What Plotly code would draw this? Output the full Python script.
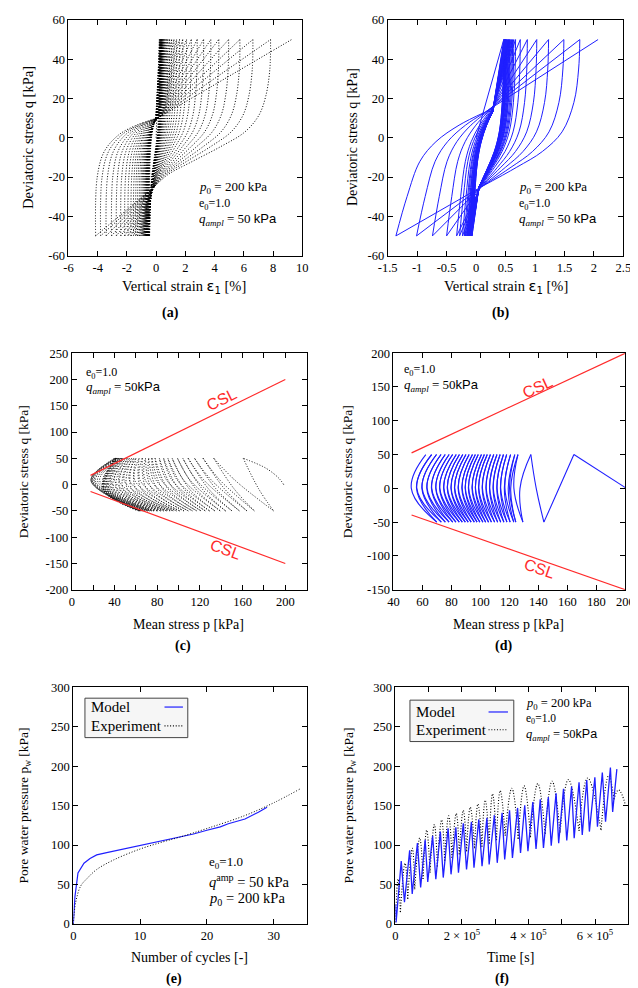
import plotly.graph_objects as go

W, H = 638, 988
SERIF = "Liberation Serif"
SANS = "Liberation Sans"
BLUE = "#1f1fff"
RED = "#ff2a2a"
DOT = "1px,1.8px"

# ---------------- (a) experiment: strain at q=+50 / q=-50 per cycle ----------------
a_eps_top = [0.22, 0.25, 0.27, 0.29, 0.31, 0.33, 0.35, 0.37, 0.39, 0.41, 0.44, 0.47, 0.51, 0.56,
             0.62, 0.70, 0.80, 0.92, 1.06, 1.22, 1.40, 1.60, 1.82, 2.08, 2.41, 2.81, 3.25, 3.74,
             4.29, 4.96, 5.73, 6.62, 7.83, 9.27]
a_eps_bot = [-0.45, -0.48, -0.50, -0.52, -0.54, -0.56, -0.58, -0.60, -0.62, -0.64, -0.66, -0.68,
             -0.70, -0.73, -0.76, -0.80, -0.85, -0.90, -0.97, -1.05, -1.15, -1.27, -1.40, -1.55,
             -1.72, -1.92, -2.15, -2.42, -2.72, -3.05, -3.42, -3.80, -4.14]
# strain where each branch meets the central column (loading: q=+10, unloading: q=-25)
a_cu_x = [-0.02, -0.02, -0.02, -0.01, -0.01, -0.01, 0.0, 0.0, 0.0, 0.01, 0.01, 0.02, 0.02, 0.03,
          0.03, 0.04, 0.04, 0.05, 0.05, 0.06, 0.06, 0.07, 0.07, 0.08, 0.08, 0.09, 0.09, 0.10,
          0.10, 0.10, 0.10, 0.10, 0.10, 0.10]
a_cd_x = [-0.35, -0.34, -0.34, -0.33, -0.33, -0.32, -0.32, -0.31, -0.31, -0.30, -0.29, -0.28,
          -0.27, -0.26, -0.25, -0.24, -0.23, -0.22, -0.21, -0.20, -0.19, -0.18, -0.17, -0.16,
          -0.15, -0.14, -0.14, -0.13, -0.13, -0.13, -0.13, -0.13, -0.13]
a_q_up, a_q_dn = 10.0, -25.0
a_load_shape = [(0.0, -50), (0.026, -20), (0.14, -7), (0.37, 1.4), (0.66, 6.4), (1.0, 10)]
a_unload_shape = [(0.0, 50), (0.006, 35), (0.04, 21.5), (0.10, 11.5), (0.22, 3), (0.425, -4.4),
                  (0.67, -12), (0.88, -18.7), (1.0, -25)]

# ---------------- (b) model ----------------
b_eps_top = [0.47, 0.47, 0.48, 0.48, 0.49, 0.49, 0.50, 0.50, 0.51, 0.51, 0.52, 0.53, 0.54, 0.55,
             0.56, 0.57, 0.58, 0.60, 0.62, 0.64, 0.67, 0.75, 0.87, 1.03, 1.23, 1.49, 1.76, 2.07]
b_eps_bot = [-0.07, -0.07, -0.08, -0.08, -0.08, -0.09, -0.09, -0.09, -0.10, -0.10, -0.11, -0.11,
             -0.12, -0.12, -0.13, -0.14, -0.15, -0.16, -0.18, -0.20, -0.23, -0.28, -0.33, -0.50,
             -0.74, -1.01, -1.36]
b_cu_x = [0.28, 0.28, 0.28, 0.28, 0.28, 0.28, 0.28, 0.28, 0.28, 0.28, 0.28, 0.28, 0.28, 0.28,
          0.28, 0.28, 0.28, 0.27, 0.27, 0.26, 0.26, 0.25, 0.24, 0.22, 0.20, 0.18, 0.16, 0.15]
b_cd_x = [0.05, 0.05, 0.05, 0.05, 0.05, 0.05, 0.05, 0.05, 0.05, 0.05, 0.05, 0.05, 0.05, 0.05,
          0.05, 0.05, 0.05, 0.06, 0.06, 0.06, 0.07, 0.07, 0.08, 0.08, 0.09, 0.09, 0.09]
b_q_up, b_q_dn = 13.0, -25.0
b_load_shape = [(0.0, -50), (0.125, -30), (0.27, -12), (0.45, -2), (0.71, 6.4), (1.0, 13)]
b_unload_shape = [(0.0, 50), (0.012, 35), (0.06, 18), (0.18, 3), (0.38, -7), (0.64, -15), (1.0, -25)]

# ---------------- (c) experiment stress path ----------------
c_start = [(198.5, 0), (194, 12), (182, 31)]
c_p_top = [160.6, 133, 123, 115, 109, 104, 99, 94, 90, 86, 82, 78, 75, 72, 69, 66, 63, 60, 58, 56,
           54, 52, 50, 48, 47, 46, 45, 44, 43, 42, 42, 41, 41, 40]
c_p_bot = [189, 171, 164, 157, 150, 144, 139, 134, 129, 125, 121, 117, 113, 109, 105, 101, 98, 95,
           92, 89, 86, 83, 80, 77, 75, 73, 71, 69, 67, 66, 65, 64, 63, 62]
c_p_mid_unload = [175, 152, 143, 135, 128, 122, 116, 110, 105, 100, 95, 90, 85, 80, 75, 70, 65, 60,
                  56, 52, 48, 45, 42, 39, 37, 35, 34, 33, 32, 31, 30, 30, 29, 29]
c_p_mid_load = [153, 139, 131, 124, 117, 111, 105, 99, 94, 89, 84, 79, 74, 69, 64, 59, 54, 49, 44,
                40, 36, 32, 29, 26, 24, 22, 21, 20, 19, 19, 18, 18, 18]
c_q_mid_unload = -8
c_q_mid_load = 8

# ---------------- (d) model stress path ----------------
d_start = (200, 1)
d_p_top = [164.5, 134.8, 125.9, 123.7, 120.8, 118.1, 115.9, 113.6, 111.4, 109.2, 106.9, 104.7,
           102.7, 100.7, 98.5, 96.5, 94.5, 92.2, 90.0, 87.8, 85.5, 83.3, 80.8, 78.4, 75.7, 72.8,
           69.7, 66.3, 62.3]
d_p_bot = [143.8, 129.3, 124.4, 123.0, 120.5, 118.3, 116.2, 114.0, 111.9, 109.8, 107.6, 105.6,
           103.6, 101.7, 99.6, 97.7, 95.8, 93.6, 91.6, 89.6, 87.5, 85.4, 83.1, 80.9, 78.4, 75.8,
           73.0, 69.9]
d_p_mid_unload = [154.2, 127.3, 120.9, 119.2, 116.5, 113.8, 111.3, 108.7, 106.3, 103.8, 101.2,
                  98.7, 96.5, 94.2, 91.7, 89.5, 87.2, 84.6, 82.1, 79.7, 77.1, 74.6, 71.8, 69.2,
                  66.2, 63.0, 59.6, 55.9]
d_p_mid_load = [138.5, 123.1, 120.1, 116.9, 114.0, 111.5, 108.9, 106.4, 104.0, 101.4, 98.9, 96.6,
                94.4, 91.9, 89.6, 87.4, 84.8, 82.3, 79.8, 77.3, 74.8, 72.0, 69.3, 66.4, 63.2,
                59.8, 56.1, 52.3]

csl_p = [17.5, 200]
csl_comp_q = [17.5, 200]
csl_ext_q = [-13.1, -150]
d_csl_p = [52.5, 200]
d_csl_comp_q = [52.5, 200]
d_csl_ext_q = [-39.4, -150]

# ---------------- (e) pore pressure vs cycles ----------------
e_model_n = [0, 0.25, 0.7, 1.0, 1.6, 2.5, 3.5, 5, 7, 10, 13.4, 15.9, 18, 20, 22, 23.2, 25.7, 27.7, 29]
e_model_pw = [0, 35, 64.6, 69, 77, 83, 87.5, 90.5, 94, 100, 106, 109.6, 114, 118.8, 123, 127, 133,
              141.7, 148]
e_exp_n = [0, 0.35, 1.1, 2.1, 3.5, 6, 10, 13.4, 15.9, 20, 25.7, 30.1, 33.9]
e_exp_pw = [0, 27, 48, 58, 69, 81, 95, 104, 110, 121, 137.5, 154, 171]

# ---------------- (f) pore pressure vs time (t in 1e5 s) ----------------
f_model_t = [0.0, 0.02, 0.175, 0.272, 0.428, 0.505, 0.661, 0.758, 0.894, 0.972, 1.118, 1.215,
             1.351, 1.438, 1.584, 1.672, 1.817, 1.895, 2.041, 2.138, 2.284, 2.362, 2.507, 2.604,
             2.750, 2.818, 2.974, 3.061, 3.207, 3.285, 3.431, 3.518, 3.673, 3.761, 3.887, 3.984,
             4.130, 4.227, 4.354, 4.451, 4.597, 4.684, 4.830, 4.908, 5.053, 5.151, 5.296, 5.374,
             5.520, 5.617, 5.753, 5.831, 5.996, 6.074, 6.220, 6.317, 6.463, 6.531, 6.657]
f_model_pw = [25, 2, 79.6, 27.5, 93.3, 37.9, 102.5, 46.3, 106.7, 53.3, 111.7, 56.7, 117.1, 58.8,
              121.3, 62.9, 122.5, 65, 127.5, 69.2, 129.6, 71.3, 132.5, 73.3, 134.6, 75.4, 137.9,
              77.5, 140.8, 81.7, 144.2, 83.8, 147.1, 90, 150.4, 92.1, 154.6, 95, 157.9, 96.3,
              160.8, 99.2, 165.8, 102.5, 171.3, 105.8, 174.2, 108.8, 179.6, 112.9, 182.5, 117.1,
              185.8, 123.3, 192.1, 129.6, 198.3, 142.1, 196.3]
# experiment: alternating trough / peak, starting and ending with a trough
f_exp_t = [0.0, 0.08, 0.15, 0.29, 0.37, 0.51, 0.58, 0.73, 0.83, 0.94, 1.04, 1.17, 1.26, 1.39, 1.48,
           1.60, 1.70, 1.83, 1.92, 2.04, 2.14, 2.25, 2.38, 2.48, 2.60, 2.70, 2.82, 2.92, 3.04, 3.15,
           3.30, 3.50, 3.69, 3.87, 4.06, 4.28, 4.50, 4.71, 4.95, 5.20, 5.52, 5.78, 6.18, 6.41, 6.57,
           6.71, 6.92]
f_exp_pw = [2, 57, 15, 77, 32, 96, 44, 109, 57, 119, 65, 126, 73, 132, 80, 137, 84, 140, 88, 144,
            92, 148, 96, 152, 98, 157, 102, 165, 106, 169, 112, 172, 108, 175, 110, 178, 114, 181,
            116, 183, 118, 185, 119, 188, 158, 170, 150]

# ---------------- axes tick labels ----------------
a_xticks = [-6, -4, -2, 0, 2, 4, 6, 8, 10]
b_xticks = [-1.5, -1, -0.5, 0, 0.5, 1, 1.5, 2, 2.5]
ab_yticks = [-60, -40, -20, 0, 20, 40, 60]
c_xticks = [0, 40, 80, 120, 160, 200]
c_yticks = [-200, -150, -100, -50, 0, 50, 100, 150, 200, 250]
d_xticks = [40, 60, 80, 100, 120, 140, 160, 180, 200]
d_yticks = [-150, -100, -50, 0, 50, 100, 150, 200]
e_xticks = [0, 10, 20, 30]
ef_yticks = [0, 50, 100, 150, 200, 250, 300]
f_xticks = [0, 2e5, 4e5, 6e5]
f_xticktext = ["0", "2 × 10<sup>5</sup>", "4 × 10<sup>5</sup>", "6 × 10<sup>5</sup>"]


def fmt(v):
    return "%g" % v


def strain_loops(tops, bots, cu_x, cd_x, q_up, q_dn, load_shape, unload_shape):
    xs, ys = [], []

    def seg(pts):
        for x, y in pts:
            xs.append(x)
            ys.append(y)
        xs.append(None)
        ys.append(None)

    seg([(0, 0), (tops[0], 50)])
    for i in range(len(tops)):
        if i > 0:
            e0 = bots[i - 1]
            c = cu_x[i]
            w = c - e0
            seg([(e0 + f * w, q) for f, q in load_shape])
            seg([(c, q_up), (tops[i], 50)])
        if i < len(bots):
            e1 = tops[i]
            c = cd_x[i]
            w = e1 - c
            seg([(e1 - f * w, q) for f, q in unload_shape])
            seg([(c, q_dn), (bots[i], -50)])
    return xs, ys


def stress_path(start_pts, tops, bots, mid_un, mid_ld, q_un, q_ld):
    xs, ys = [], []

    def seg(pts):
        for x, y in pts:
            xs.append(x)
            ys.append(y)
        xs.append(None)
        ys.append(None)

    seg(list(start_pts) + [(tops[0], 50)])
    for i in range(len(tops)):
        if i < len(bots):
            seg([(tops[i], 50), (mid_un[i], q_un), (bots[i], -50)])
            if i + 1 < len(tops):
                seg([(bots[i], -50), (mid_ld[i], q_ld), (tops[i + 1], 50)])
    return xs, ys


def humps(ts, vs, scale):
    # each hump (trough - peak - trough) is its own smooth segment, so troughs stay sharp
    xs, ys = [], []
    for k in range(0, len(ts) - 2, 2):
        for j in range(3):
            xs.append(ts[k + j] * scale)
            ys.append(vs[k + j])
        xs.append(None)
        ys.append(None)
    return xs, ys


fig = go.Figure()

boxes = {
    "a": (52, 293, 5, 244),
    "b": (381, 624, 5, 244),
    "c": (55.5, 297.5, 343, 583),
    "d": (387, 626, 343, 583),
    "e": (57, 298, 682, 922),
    "f": (389, 629, 682, 922),
}
names = ["a", "b", "c", "d", "e", "f"]
axid = {n: ("" if i == 0 else str(i + 1)) for i, n in enumerate(names)}


def xref(n):
    return "x" + axid[n]


def yref(n):
    return "y" + axid[n]


def add(n, x, y, line):
    fig.add_trace(go.Scatter(x=x, y=y, mode="lines", line=line, xaxis=xref(n), yaxis=yref(n),
                             showlegend=False, hoverinfo="skip"))


ax, ay = strain_loops(a_eps_top, a_eps_bot, a_cu_x, a_cd_x, a_q_up, a_q_dn, a_load_shape, a_unload_shape)
add("a", ax, ay, dict(color="black", width=1, dash=DOT, shape="spline", smoothing=1))
bx, by = strain_loops(b_eps_top, b_eps_bot, b_cu_x, b_cd_x, b_q_up, b_q_dn, b_load_shape, b_unload_shape)
add("b", bx, by, dict(color=BLUE, width=1, shape="spline", smoothing=1))

cx, cy = stress_path(c_start, c_p_top, c_p_bot, c_p_mid_unload, c_p_mid_load, c_q_mid_unload, c_q_mid_load)
add("c", cx, cy, dict(color="black", width=1, dash=DOT, shape="spline", smoothing=1))
add("c", csl_p, csl_comp_q, dict(color=RED, width=1.2))
add("c", csl_p, csl_ext_q, dict(color=RED, width=1.2))

dx, dy = stress_path([d_start], d_p_top, d_p_bot, d_p_mid_unload, d_p_mid_load, 0, 0)
add("d", dx, dy, dict(color=BLUE, width=1.1, shape="spline", smoothing=1.2))
add("d", d_csl_p, d_csl_comp_q, dict(color=RED, width=1.2))
add("d", d_csl_p, d_csl_ext_q, dict(color=RED, width=1.2))

add("e", e_model_n, e_model_pw, dict(color=BLUE, width=1.2))
add("e", e_exp_n, e_exp_pw, dict(color="black", width=1, dash=DOT, shape="spline"))

fx, fy = humps(f_exp_t, f_exp_pw, 1e5)
add("f", fx, fy, dict(color="black", width=1.1, dash=DOT, shape="spline", smoothing=1.2))
add("f", [t * 1e5 for t in f_model_t], f_model_pw, dict(color=BLUE, width=1.3))


def axis(n, which, rng, tickvals, ticktext=None, minor=None):
    x0, x1, y0, y1 = boxes[n]
    if which == "x":
        dom = [x0 / W, x1 / W]
        anchor = yref(n)
    else:
        dom = [1 - y1 / H, 1 - y0 / H]
        anchor = xref(n)
    d = dict(domain=dom, anchor=anchor, range=rng, showline=True, linecolor="black", linewidth=1,
             mirror="ticks", ticks="inside", ticklen=5, tickwidth=1, tickcolor="black",
             showgrid=False, zeroline=False, tickmode="array", tickvals=tickvals,
             ticktext=ticktext if ticktext is not None else [fmt(v) for v in tickvals],
             tickfont=dict(family=SERIF, size=12.5, color="black"), fixedrange=True)
    if minor is not None:
        d["minor"] = dict(tickvals=minor, ticks="inside", ticklen=5, tickwidth=1, tickcolor="black", showgrid=False)
    return d


layout_axes = {}
specs = {
    "a": ([-6, 10], a_xticks, None, None, [-60, 60], ab_yticks),
    "b": ([-1.5, 2.5], b_xticks, None, None, [-60, 60], ab_yticks),
    "c": ([0, 220], c_xticks, None, [20, 60, 100, 140, 180, 220], [-200, 250], c_yticks),
    "d": ([40, 200], d_xticks, None, None, [-150, 200], d_yticks),
    "e": ([0, 35], e_xticks, None, None, [0, 300], ef_yticks),
    "f": ([0, 7e5], f_xticks, f_xticktext, [1e5, 3e5, 5e5, 7e5], [0, 300], ef_yticks),
}
for n in names:
    xr, xt, xtt, xm, yr, yt = specs[n]
    layout_axes["xaxis" + axid[n]] = axis(n, "x", xr, xt, xtt, xm)
    layout_axes["yaxis" + axid[n]] = axis(n, "y", yr, yt)

fig.update_layout(width=W, height=H, margin=dict(l=0, r=0, t=0, b=0), paper_bgcolor="white",
                  plot_bgcolor="white", showlegend=False, **layout_axes)

ann = []


def text(px, py, s, size=13, family=SERIF, angle=0, xanchor="center", color="black", yanchor="middle"):
    ann.append(dict(x=px / W, y=1 - py / H, xref="paper", yref="paper", text=s, showarrow=False,
                    font=dict(family=family, size=size, color=color), textangle=angle,
                    xanchor=xanchor, yanchor=yanchor))


eps_lbl = "Vertical strain <span style='font-family:DejaVu Sans'>ε<sub>1</sub></span> [%]"
q_lbl = "Deviatoric stress q [kPa]"
p_lbl = "Mean stress p [kPa]"
pw_lbl = "Pore water pressure p<sub>w</sub> [kPa]"

text(11, 124, q_lbl, 14.5, angle=-90)
text(171, 276, eps_lbl, 14.5)
text(157, 302, "<b>(a)</b>", 14)
text(344, 124, q_lbl, 14, angle=-90)
text(503, 276, eps_lbl, 14.5)
text(497, 302, "<b>(b)</b>", 14)
text(6, 463, q_lbl, 13.5, angle=-90)
text(176, 618, p_lbl, 14)
text(170, 640, "<b>(c)</b>", 14)
text(340, 463, q_lbl, 13.5, angle=-90)
text(506, 618, p_lbl, 14)
text(500, 640, "<b>(d)</b>", 14)
text(7, 802, pw_lbl, 13.5, angle=-90)
text(177, 956, "Number of cycles [-]", 14)
text(161, 978, "<b>(e)</b>", 14)
text(342, 802, pw_lbl, 13.5, angle=-90)
text(508, 956, "Time [s]", 14)
text(499, 978, "<b>(f)</b>", 14)

p0 = "<i>p</i><sub>0</sub> = 200 kPa"
e0 = "e<sub>0</sub>=1.0"
qa = "<i>q<sub>ampl</sub></i> = 50<span style='font-family:Liberation Sans'>kPa</span>"
qa_sp = "<i>q<sub>ampl</sub></i> = 50 <span style='font-family:Liberation Sans'>kPa</span>"

text(185, 175, p0, 13, xanchor="left")
text(185, 192, e0, 12, xanchor="left")
text(185, 207, qa_sp, 13, xanchor="left")
text(514, 175, p0, 13, xanchor="left")
text(514, 192, e0, 12, xanchor="left")
text(514, 207, qa_sp, 13, xanchor="left")
text(68, 363, e0, 12, xanchor="left")
text(68, 378, qa, 13, xanchor="left")
text(396, 360, e0, 12, xanchor="left")
text(396, 376, qa, 13, xanchor="left")
text(195, 860, e0, 13, xanchor="left")
text(195, 878, "<i>q</i><sup>amp</sup> = 50 kPa", 14.5, xanchor="left")
text(195, 897, p0, 14.5, xanchor="left")
text(522, 699, p0, 12.5, xanchor="left")
text(522, 714, e0, 11.5, xanchor="left")
text(522, 730, qa, 12.5, xanchor="left")

text(210, 390, "CSL", 16, family=SANS, angle=-26, color=RED)
text(214, 542, "CSL", 16, family=SANS, angle=20, color=RED)
text(535, 378, "CSL", 16, family=SANS, angle=-25, color=RED)
text(537, 561, "CSL", 16, family=SANS, angle=19, color=RED)

shapes = []


def legend(x0, y0, x1, y1, rows):
    shapes.append(dict(type="rect", xref="paper", yref="paper", x0=x0 / W, x1=x1 / W,
                       y0=1 - y1 / H, y1=1 - y0 / H, line=dict(color="#444444", width=1),
                       fillcolor="rgba(245,245,245,0.9)", layer="above"))
    for (label, ty, color, dash, sx0, sx1) in rows:
        text(x0 + 4, ty, label, 15, xanchor="left")
        shapes.append(dict(type="line", xref="paper", yref="paper", x0=sx0 / W, x1=sx1 / W,
                           y0=1 - ty / H, y1=1 - ty / H, line=dict(color=color, width=1.2, dash=dash),
                           layer="above"))


legend(69, 693, 175, 733, [("Model", 702, BLUE, "solid", 151, 170), ("Experiment", 721, "black", DOT, 151, 170)])
legend(404, 695, 511, 737, [("Model", 707, BLUE, "solid", 485, 505), ("Experiment", 725, "black", DOT, 485, 505)])

fig.update_layout(annotations=ann, shapes=shapes)
fig.write_html("out.html")
